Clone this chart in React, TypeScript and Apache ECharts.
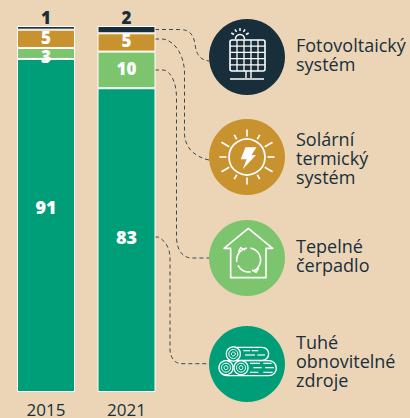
import React, { useEffect, useRef } from "react";
import * as echarts from "echarts";

const years = ["2015", "2021"];
const solidRenewables = [91, 83];
const heatPump = [3, 10];
const solarThermal = [5, 5];
const photovoltaic = [1, 2];
const legendLabels = ["Fotovoltaický\nsystém", "Solární\ntermický\nsystém", "Tepelné\nčerpadlo", "Tuhé\nobnovitelné\nzdroje"];

const BG = "#EBD5B6";
const DARK = "#182F3B";
const GOLD = "#C8922E";
const LIGHT = "#7DC46F";
const TEAL = "#009E78";
const FONT = "'Open Sans', sans-serif";

const connectors: Record<string, string> = {
  conn1: "M155 29.5 L180 29.5 C191 29.5 194 37 195 44 C196 54 200 60 209 61",
  conn2: "M155 39 L163 39 C175 41 184 55 184.5 72 L184.5 134 C185 148 195 157 209 160",
  conn3: "M155 70 L164 70 C171 72 176 82 176.5 96 L176.5 238 C177 252 184 258 192 258 L209 258",
  conn4: "M155 237 L158 237 C165 240 170 248 170 258 L170 350 C171 359 175 363.7 182 363.7 L209 363.7",
};
Object.entries(connectors).forEach(([k, d]) =>
  echarts.graphic.registerShape(k, echarts.graphic.extendPath(d, {}))
);

const white = { stroke: "#fff", fill: "none", lineWidth: 1.4 };
const line = (x1: number, y1: number, x2: number, y2: number, lineWidth = 1.4) => ({
  type: "line", shape: { x1, y1, x2, y2 }, style: { stroke: "#fff", lineWidth },
});
const circle = (cx: number, cy: number, r: number, fill = "none", lineWidth = 1.2) => ({
  type: "circle", shape: { cx, cy, r }, style: { stroke: "#fff", fill, lineWidth },
});

function panelIcon() {
  const els: any[] = [];
  els.push({ type: "rect", shape: { x: 230, y: 40, width: 35, height: 31, r: 2 }, style: { ...white, fill: DARK, lineWidth: 1.6 } });
  for (let i = 1; i < 5; i++) els.push(line(230 + i * 7, 40, 230 + i * 7, 71, 1.3));
  for (let i = 1; i < 5; i++) els.push(line(230, 40 + i * 6.2, 265, 40 + i * 6.2, 1.3));
  els.push(line(246, 71, 246, 78), line(251, 71, 251, 78), line(230, 79, 264, 79, 1.6));
  els.push({ type: "arc", shape: { cx: 240, cy: 39, r: 4.5, startAngle: Math.PI, endAngle: 0, clockwise: true }, style: { stroke: "#fff", fill: "none", lineWidth: 1.6 } });
  [-150, -120, -90, -60, -30].forEach((a) => {
    const t = (a * Math.PI) / 180;
    els.push(line(240 + 7 * Math.cos(t), 38 + 7 * Math.sin(t), 240 + 10 * Math.cos(t), 38 + 10 * Math.sin(t), 1.5));
  });
  return els;
}

function sunIcon() {
  const cx = 247, cy = 157;
  const els: any[] = [circle(cx, cy, 18, "none", 1.7)];
  const outerByStep = [27.5, 29.5, 25.5];
  for (let i = 0; i < 12; i++) {
    const t = (i * 30 * Math.PI) / 180;
    const step = i % 3;
    const start = 20.5;
    const end = outerByStep[step === 0 ? 0 : (i % 6 === 1 || i % 6 === 5 ? 1 : 2)];
    els.push(line(cx + start * Math.cos(t), cy + start * Math.sin(t), cx + end * Math.cos(t), cy + end * Math.sin(t), 1.7));
  }
  els.push({
    type: "polygon",
    shape: { points: [[245.5, 147.3], [256.5, 147.3], [251.5, 155], [256, 155], [242.7, 169.3], [246.7, 159.3], [240.7, 159.3]] },
    style: { fill: "#fff" },
  });
  return els;
}

function houseIcon() {
  const els: any[] = [];
  const p = (x: number, y: number) => [200 + x / 3, 210 + y / 3];
  els.push({
    type: "polygon",
    shape: { points: [p(145, 55), p(218, 115), p(198, 115), p(198, 203), p(92, 203), p(92, 115), p(72, 115)] },
    style: { ...white, lineWidth: 1.6, lineJoin: "round" },
  });
  const cx = 200 + 146 / 3, cy = 210 + 150 / 3, r = 12;
  els.push({ type: "arc", shape: { cx, cy, r, startAngle: Math.PI * 0.95, endAngle: Math.PI * 1.45, clockwise: true }, style: { stroke: "#fff", fill: "none", lineWidth: 1.6 } });
  els.push({ type: "arc", shape: { cx, cy, r, startAngle: Math.PI * 1.55, endAngle: Math.PI * 2.35, clockwise: true }, style: { stroke: "#fff", fill: "none", lineWidth: 1.6 } });
  els.push({ type: "arc", shape: { cx, cy, r, startAngle: Math.PI * 0.45, endAngle: Math.PI * 0.85, clockwise: true }, style: { stroke: "#fff", fill: "none", lineWidth: 1.6 } });
  els.push({ type: "polyline", shape: { points: [p(115, 125), p(122, 113), p(135, 120)] }, style: { stroke: "#fff", fill: "none", lineWidth: 1.5 } });
  els.push({ type: "polyline", shape: { points: [p(176, 175), p(168, 187), p(156, 180)] }, style: { stroke: "#fff", fill: "none", lineWidth: 1.5 } });
  return els;
}

function logsIcon() {
  const X = (x: number) => 200 + x / 3;
  const Y = (y: number) => 210 + y / 3;
  const els: any[] = [];
  els.push({ type: "rect", shape: { x: X(80), y: Y(412), width: 42, height: 13, r: 6.5 }, style: { ...white, fill: TEAL } });
  els.push({ type: "rect", shape: { x: X(58), y: Y(452), width: 57, height: 15, r: 7.5 }, style: { ...white, fill: TEAL } });
  [[100, 432], [78, 473], [123, 473]].forEach(([x, y]) => {
    els.push({ type: "circle", shape: { cx: X(x), cy: Y(y), r: 7 }, style: { fill: TEAL, stroke: "#fff", lineWidth: 1.3 } });
    els.push(circle(X(x), Y(y), 4.5, "none", 1));
    els.push(circle(X(x), Y(y), 2, "none", 1));
  });
  [[130, 422, 150], [155, 422, 175], [135, 435, 165], [172, 435, 195], [150, 460, 180], [190, 460, 215], [160, 473, 185], [195, 473, 222], [150, 487, 175], [190, 487, 218]].forEach(([x1, y, x2]) =>
    els.push(line(X(x1), Y(y), X(x2), Y(y), 1.2))
  );
  return els;
}

export default function App() {
  const ref = useRef<HTMLDivElement>(null);
  useEffect(() => {
    document.body.style.margin = "0";
    document.body.style.background = BG;
    const chart = echarts.init(ref.current!, undefined, { renderer: "svg" });
    const inside = { show: true, position: "inside" as const, color: "#fff", fontFamily: FONT, fontWeight: 800, fontSize: 18 };
    const withOffset = (vals: number[], dy: number[]) =>
      vals.map((value, i) => ({ value, label: { offset: [0, dy[i]] } }));
    const seriesDefs = [
      { name: "Tuhé obnovitelné zdroje", data: withOffset(solidRenewables, [-18, -3]), color: TEAL, label: inside },
      { name: "Tepelné čerpadlo", data: withOffset(heatPump, [3, -1]), color: LIGHT, label: { ...inside, fontSize: 17 } },
      { name: "Solární termický systém", data: withOffset(solarThermal, [-1.5, -1.5]), color: GOLD, label: { ...inside, fontSize: 17 } },
      { name: "Fotovoltaický systém", data: photovoltaic, color: DARK, label: { ...inside, fontSize: 17, position: "top" as const, color: DARK, distance: 0 } },
    ];
    const legendCy = [57, 157, 258, 364];
    const legendCol = [DARK, GOLD, LIGHT, TEAL];
    const textY = [35, 129, 236, 332];
    chart.setOption({
      animation: false,
      backgroundColor: BG,
      grid: { left: 5.75, top: 26, width: 161, height: 366 },
      xAxis: {
        type: "category", data: years,
        axisLine: { show: false }, axisTick: { show: false },
        axisLabel: { color: DARK, fontFamily: FONT, fontSize: 17, lineHeight: 16, margin: 9 },
      },
      yAxis: { type: "value", min: 0, max: 100, show: false },
      series: seriesDefs.map((s) => ({
        type: "bar", stack: "t", name: s.name, data: s.data, barWidth: 58,
        itemStyle: { color: s.color, borderColor: "#fff", borderWidth: 1 },
        label: s.label,
      })),
      graphic: [
        ...Object.keys(connectors).map((k) => ({
          type: k, x: 0, y: 0,
          style: { stroke: "#3b4a4e", fill: "none", lineWidth: 1, lineDash: [4, 3] },
        })),
        ...legendCy.map((cy, i) => ({ type: "circle", shape: { cx: 247, cy, r: 38 }, style: { fill: legendCol[i] } })),
        ...panelIcon(), ...sunIcon(), ...houseIcon(), ...logsIcon(),
        ...legendLabels.map((t, i) => ({
          type: "text", x: 296, y: textY[i],
          style: { text: t, fill: DARK, font: `18px ${FONT}`, lineHeight: 19, textAlign: "left", textVerticalAlign: "top" },
        })),
      ],
    });
    return () => chart.dispose();
  }, []);
  return <div ref={ref} style={{ width: 410, height: 418 }} />;
}
